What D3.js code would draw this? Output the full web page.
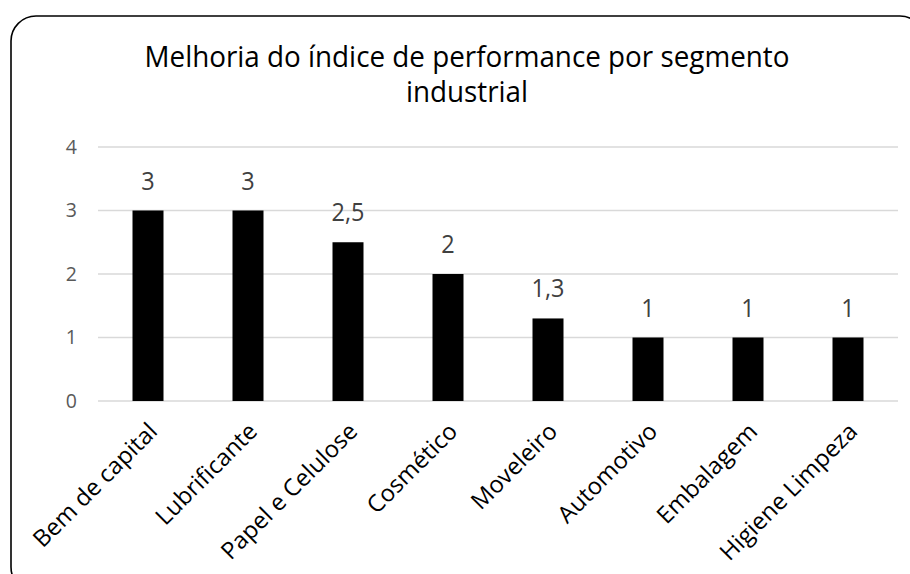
<!DOCTYPE html>
<html>
<head>
<meta charset="utf-8">
<script src="https://cdn.jsdelivr.net/npm/d3@7"></script>
<style>
  html, body { margin: 0; padding: 0; background: #fff; }
  svg { display: block; }
  text { font-family: "Open Sans", "Noto Sans", "DejaVu Sans", sans-serif; }
</style>
</head>
<body>
<svg id="chart" width="910" height="574"></svg>
<script>
// ---- data ----
const titleLines = ["Melhoria do índice de performance por segmento", "industrial"];
const categories = ["Bem de capital", "Lubrificante", "Papel e Celulose", "Cosmético", "Moveleiro", "Automotivo", "Embalagem", "Higiene Limpeza"];
const values = [3, 3, 2.5, 2, 1.3, 1, 1, 1];
const yTicks = [0, 1, 2, 3, 4];

// ---- layout ----
const plot = { left: 98, right: 898, top: 147, bottom: 401 };
const ptBR = d3.formatLocale({ decimal: ",", thousands: ".", grouping: [3], currency: ["R$", ""] });
const fmt = ptBR.format("~g");

const svg = d3.select("#chart");

// outer rounded frame
svg.append("rect")
  .attr("x", 11).attr("y", 16)
  .attr("width", 914).attr("height", 576)
  .attr("rx", 25).attr("ry", 25)
  .attr("fill", "#fff").attr("stroke", "#000").attr("stroke-width", 1.6);

const x = d3.scaleBand()
  .domain(categories)
  .range([plot.left, plot.right])
  .paddingInner(0.69)
  .paddingOuter(0.345);

const y = d3.scaleLinear()
  .domain([0, 4])
  .range([plot.bottom, plot.top]);

// gridlines
svg.append("g")
  .selectAll("line")
  .data(yTicks)
  .join("line")
  .attr("x1", plot.left).attr("x2", plot.right)
  .attr("y1", d => y(d)).attr("y2", d => y(d))
  .attr("stroke", "#d9d9d9").attr("stroke-width", 1.3);

// y axis labels
const yAxis = svg.append("g")
  .attr("transform", `translate(${plot.left - 10},0)`)
  .call(d3.axisLeft(y).tickValues(yTicks).tickSize(0).tickPadding(11).tickFormat(fmt));
yAxis.select(".domain").remove();
yAxis.selectAll("text")
  .attr("fill", "#595959")
  .style("font-size", "19.5px")
  .style("font-family", "'Open Sans', sans-serif");

// bars
svg.append("g")
  .selectAll("rect")
  .data(values)
  .join("rect")
  .attr("x", (d, i) => x(categories[i]))
  .attr("y", d => y(d))
  .attr("width", x.bandwidth())
  .attr("height", d => y(0) - y(d))
  .attr("fill", "#000");

// value labels
const valTexts = svg.append("g")
  .selectAll("text")
  .data(values)
  .join("text")
  .attr("x", (d, i) => x(categories[i]) + x.bandwidth() / 2)
  .attr("y", d => y(d) - 21)
  .attr("text-anchor", "middle")
  .attr("fill", "#404040")
  .style("font-size", "25.5px")
  .text(d => fmt(d));
valTexts.each(function () {
  const w = this.getComputedTextLength();
  d3.select(this).attr("textLength", w * 0.92).attr("lengthAdjust", "spacingAndGlyphs");
});

// category labels (rotated -45)
const catLen = 164; // target length of "Bem de capital"
const catTexts = svg.append("g").selectAll("text")
  .data(categories)
  .join("text")
  .attr("text-anchor", "end")
  .attr("dy", "0.35em")
  .attr("fill", "#000")
  .style("font-size", "23.5px")
  .attr("transform", d => `translate(${x(d) + x.bandwidth() / 2 + 5},427) rotate(-45)`)
  .text(d => d);
const refW = catTexts.filter((d, i) => i === 0).node().getComputedTextLength();
const ratio = catLen / refW;
catTexts.each(function () {
  const w = this.getComputedTextLength();
  d3.select(this).attr("textLength", w * ratio).attr("lengthAdjust", "spacingAndGlyphs");
});

// title
const title = svg.append("g")
  .selectAll("text")
  .data(titleLines)
  .join("text")
  .attr("x", 467)
  .attr("y", (d, i) => 67 + i * 35)
  .attr("text-anchor", "middle")
  .attr("fill", "#000")
  .style("font-size", "28.5px")
  .text(d => d);
const tw = title.filter((d, i) => i === 0).node().getComputedTextLength();
const tRatio = 645 / tw;
title.each(function () {
  const w = this.getComputedTextLength();
  d3.select(this).attr("textLength", w * tRatio).attr("lengthAdjust", "spacingAndGlyphs");
});
</script>
</body>
</html>
